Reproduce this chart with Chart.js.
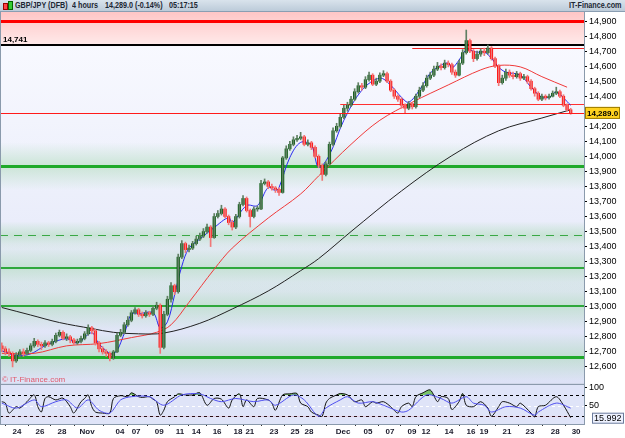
<!DOCTYPE html>
<html>
<head>
<meta charset="utf-8">
<script src="https://cdn.jsdelivr.net/npm/chart.js@4.4.0/dist/chart.umd.min.js"></script>
<style>
html, body { margin: 0; padding: 0; background: #fff; }
#hdr { position: absolute; left: 0; top: 0; width: 625px; height: 11px; background: linear-gradient(#d9e3ec, #bccbd9); border-bottom: 1px solid #8a9eb2; font: bold 9px "Liberation Sans", Arial, sans-serif; color: #1c2733; }
#hdr b { position: absolute; top: 0px; line-height: 11px; white-space: nowrap; transform: scaleX(0.8); transform-origin: 0 0; }
#hdr b.r { transform-origin: 100% 0; }
#hdr .ic { position: absolute; left: 3px; top: 3px; width: 3px; height: 5px; border: 1px solid #900; background: #f44; }
#hdr .ic2 { position: absolute; left: 8px; top: 1px; width: 3px; height: 7px; border: 1px solid #060; background: #3c3; }
#wrap { position: absolute; left: 0; top: 12px; width: 625px; height: 426px; }
</style>
</head>
<body>
<div id="hdr">
  <span class="ic"></span><span class="ic2"></span>
  <b style="left:15px">GBP/JPY (DFB)</b>
  <b style="left:72px">4 hours</b>
  <b style="left:105px">14,289.0 (-0.14%)</b>
  <b style="left:169px">05:17:15</b>
  <b class="r" style="right:3px">IT-Finance.com</b>
</div>
<div id="wrap"><canvas id="c" width="625" height="426"></canvas></div>
<script>
// 4h candles, GBP/JPY x100
var opens = [12740,12720,12700,12690,12640,12680,12700,12690,12710,12740,12770,12750,12740,12760,12750,12770,12810,12830,12790,12800,
  12780,12760,12770,12790,12820,12860,12840,12760,12720,12700,12690,12660,12700,12810,12830,12880,12910,12960,12980,12950,
  12940,12960,12950,12990,13010,12730,12950,13050,13140,13100,13330,13420,13380,13390,13420,13450,13470,13500,13530,13460,
  13600,13620,13650,13600,13560,13530,13600,13680,13720,13640,13600,13650,13650,13820,13830,13800,13790,13780,13760,13990,
  14050,14080,14110,14120,14130,14080,14090,14060,14000,13940,13880,13950,14080,14170,14200,14260,14320,14340,14380,14430,
  14470,14460,14510,14540,14480,14500,14540,14550,14500,14440,14400,14380,14340,14320,14350,14330,14400,14440,14470,14520,
  14540,14580,14600,14590,14620,14610,14560,14540,14620,14690,14770,14700,14650,14680,14700,14690,14720,14650,14600,14490,
  14520,14560,14540,14530,14550,14520,14530,14500,14450,14420,14380,14400,14390,14400,14420,14430,14400,14340,14310];
var highs = [12760,12735,12720,12700,12695,12715,12720,12725,12755,12790,12780,12765,12775,12770,12785,12825,12845,12840,12820,12810,
  12790,12785,12805,12835,12880,12870,12850,12770,12735,12715,12700,12710,12825,12850,12895,12935,12975,12995,12990,12965,
  12975,12970,13005,13030,13020,12970,13070,13160,13150,13350,13440,13430,13410,13435,13470,13490,13520,13550,13540,13620,
  13640,13675,13660,13610,13575,13615,13695,13740,13730,13650,13665,13670,13840,13850,13840,13815,13800,13790,14000,14070,
  14100,14130,14140,14160,14140,14110,14100,14070,14010,13950,13965,14095,14190,14220,14280,14340,14360,14400,14450,14490,
  14485,14530,14560,14550,14520,14555,14570,14560,14510,14450,14410,14390,14350,14365,14360,14415,14460,14490,14540,14560,
  14600,14625,14615,14640,14635,14620,14575,14640,14710,14840,14780,14710,14700,14715,14720,14740,14730,14660,14610,14540,
  14580,14575,14560,14565,14560,14545,14540,14510,14460,14430,14415,14410,14415,14435,14460,14440,14410,14350,14320];
var lows = [12700,12680,12670,12600,12630,12665,12670,12680,12700,12730,12735,12715,12730,12735,12740,12760,12800,12780,12775,12760,
  12745,12750,12760,12780,12810,12820,12745,12700,12685,12670,12640,12650,12695,12800,12820,12870,12900,12950,12935,12925,
  12930,12935,12940,12980,12690,12720,12940,13030,13080,13090,13320,13360,13365,13380,13410,13440,13460,13490,13400,13455,
  13590,13610,13590,13545,13510,13520,13590,13670,13630,13530,13590,13635,13645,13810,13785,13775,13760,13740,13755,13980,
  14040,14070,14100,14110,14070,14070,14045,13990,13925,13840,13870,13940,14070,14160,14190,14250,14300,14330,14370,14420,
  14440,14450,14500,14470,14470,14490,14530,14490,14430,14385,14365,14320,14290,14310,14315,14320,14390,14430,14460,14510,
  14530,14570,14575,14580,14595,14545,14525,14535,14610,14680,14690,14630,14640,14665,14670,14680,14640,14590,14470,14480,
  14505,14525,14515,14520,14505,14510,14485,14440,14400,14370,14370,14375,14380,14395,14410,14390,14330,14300,14280];
var closes = [12720,12700,12690,12640,12680,12700,12690,12710,12740,12770,12750,12740,12760,12750,12770,12810,12830,12790,12800,12780,
  12760,12770,12790,12820,12860,12840,12760,12720,12700,12690,12660,12700,12810,12830,12880,12910,12960,12980,12950,12940,
  12960,12950,12990,13010,12730,12950,13050,13140,13100,13330,13420,13380,13390,13420,13450,13470,13500,13530,13460,13600,
  13620,13650,13600,13560,13530,13600,13680,13720,13640,13600,13650,13650,13820,13830,13800,13790,13780,13760,13990,14050,
  14080,14110,14120,14130,14080,14090,14060,14000,13940,13880,13950,14080,14170,14200,14260,14320,14340,14380,14430,14470,
  14460,14510,14540,14480,14500,14540,14550,14500,14440,14400,14380,14340,14320,14350,14330,14400,14440,14470,14520,14540,
  14580,14600,14590,14620,14610,14560,14540,14620,14690,14770,14700,14650,14680,14700,14690,14720,14650,14600,14490,14520,
  14560,14540,14530,14550,14520,14530,14500,14450,14420,14380,14400,14390,14400,14420,14430,14400,14340,14310,14289];

// moving averages, sampled as [bar, value]
var maSlow = [[0,12995],[8,12945],[16,12895],[25,12855],[31,12830],[38,12820],[45,12825],[55,12890],[64,12985],[74,13105],
  [83,13240],[88,13320],[97,13500],[111,13770],[125,14005],[138,14170],[150,14255],[158,14310]];
var maMid = [[0,12690],[9,12690],[18,12740],[27,12755],[36,12795],[43,12830],[47,12880],[52,13030],[59,13250],[64,13390],
  [74,13590],[83,13750],[88,13870],[97,14080],[105,14240],[114,14360],[124,14475],[133,14575],[138,14605],[144,14595],[150,14530],[157,14460]];
var maFast = [[0,12707],[4,12675],[8,12687],[11,12727],[13,12753],[18,12787],[21,12760],[25,12827],[27,12753],[31,12687],
  [34,12820],[36,12953],[38,12953],[42,12960],[44,12860],[46,12900],[48,13080],[50,13270],[52,13390],[55,13450],[59,13527],
  [63,13593],[64,13560],[68,13673],[71,13673],[74,13793],[76,13773],[77,13793],[80,13993],[83,14093],[86,14073],[88,13927],
  [91,14010],[95,14240],[100,14440],[105,14520],[108,14473],[111,14393],[113,14360],[116,14440],[119,14553],[122,14607],
  [124,14620],[125,14587],[127,14640],[129,14707],[132,14693],[134,14693],[136,14653],[138,14593],[140,14560],[144,14540],
  [147,14460],[150,14393],[152,14393],[154,14427],[158,14340]];

// stochastic %K / %D
var stochK = [[0,61],[1,57],[2,29],[4,47],[5,43],[7,61],[9,80],[10,47],[11,32],[12,70],[13,75],[15,66],[17,71],[19,47],[20,29],
  [22,61],[23,70],[24,80],[25,47],[26,32],[28,29],[30,29],[31,70],[33,78],[35,75],[36,86],[38,75],[39,73],[41,75],[42,68],
  [43,61],[44,23],[45,37],[46,61],[48,75],[49,83],[51,80],[53,80],[55,86],[57,51],[59,70],[61,68],[63,43],[64,66],[66,83],
  [67,47],[68,66],[70,47],[71,70],[74,66],[75,57],[76,37],[78,80],[80,83],[82,84],[83,57],[85,47],[86,32],[88,23],[89,20],
  [90,57],[91,70],[93,80],[94,84],[96,80],[98,61],[100,66],[101,47],[103,61],[104,57],[106,61],[108,47],[110,29],[111,47],
  [113,57],[114,47],[115,75],[117,86],[119,94],[121,61],[122,75],[124,70],[125,39],[127,61],[128,84],[129,51],[131,47],
  [133,61],[135,43],[136,20],[138,47],[139,61],[141,57],[143,47],[144,57],[147,29],[148,18],[149,47],[151,51],[154,75],
  [156,51],[158,16]];
var stochD = [[0,57],[4,43],[9,66],[11,47],[15,61],[18,66],[21,43],[24,66],[27,37],[30,29],[33,66],[36,75],[41,75],[45,51],
  [50,80],[55,83],[58,70],[61,61],[65,70],[70,61],[74,66],[76,51],[81,80],[84,66],[88,20],[90,43],[94,66],[96,75],[99,57],
  [103,61],[106,51],[111,32],[113,37],[118,80],[122,70],[125,57],[129,75],[131,57],[134,51],[136,32],[140,47],[144,43],
  [148,23],[149,32],[154,57],[158,43]];

var priceTicks = [14900,14800,14700,14600,14500,14400,14300,14200,14100,14000,13900,13800,13700,13600,13500,13400,13300,
  13200,13100,13000,12900,12800,12700,12600];
var stochTicks = [100, 50];
var dateTickPos = [4.2,10.6,16.7,23.7,32.8,37.3,43.7,49.5,54,59.8,65.6,68.9,75.6,81.4,85.3,94.8,101.7,107.8,113.9,117.8,
  124.2,130.3,133.9,140.3,146.7,153.7,159.5];
var dateTickLabels = ['24','26','28','Nov','04','07','09','11','14','16','18','21','23','25','28','Dec','05','07','09','12',
  '14','16','19','21','23','28','30'];

var resistance = [14900, 14741, 14722, 14347];
var supports = [13935, 13475, 13260, 13005, 12667];
var lastPrice = 14289.0;
var lastStoch = 15.992;

var FONT = '"Liberation Sans", Arial, sans-serif';

var wickData = closes.map(function (c, i) { return { x: i, y: [lows[i], highs[i]] }; });
var bodyData = closes.map(function (c, i) { return { x: i, y: [opens[i], c] }; });
var isUp = closes.map(function (c, i) { return c >= opens[i]; });
function pts(arr) { return arr.map(function (p) { return { x: p[0], y: p[1] }; }); }

// no label overhang padding, so the panes fill the canvas exactly
function noPad(s) { s.paddingTop = 0; s.paddingBottom = 0; s.paddingLeft = 0; s.paddingRight = 0; }

function hline(chart, v, color, w, dash, fromBar) {
  var ctx = chart.ctx, a = chart.chartArea;
  var py = Math.round(chart.scales.y.getPixelForValue(v)) + (w % 2 ? 0.5 : 0);
  var x0 = fromBar == null ? a.left : chart.scales.x.getPixelForValue(fromBar);
  ctx.beginPath();
  ctx.setLineDash(dash || []);
  ctx.strokeStyle = color; ctx.lineWidth = w;
  ctx.moveTo(x0, py); ctx.lineTo(a.right, py); ctx.stroke();
}

var panels = {
  id: 'panels',
  beforeDatasetsDraw: function (chart) {
    var ctx = chart.ctx, a = chart.chartArea, y = chart.scales.y, yo = chart.scales.yo;
    var yRes = y.getPixelForValue(resistance[1]);
    ctx.save();
    // main panel
    var g = ctx.createLinearGradient(0, yRes, 0, y.bottom);
    g.addColorStop(0, '#f8f9ff');
    g.addColorStop(1, '#dde2f6');
    ctx.fillStyle = g;
    ctx.fillRect(a.left, yRes, a.right - a.left, y.bottom - yRes);
    var p = ctx.createLinearGradient(0, a.top, 0, yRes);
    p.addColorStop(0, '#ffc6c6');
    p.addColorStop(1, '#ffeaea');
    ctx.fillStyle = p;
    ctx.fillRect(a.left, a.top, a.right - a.left, yRes - a.top);
    // green glow round the supports
    supports.forEach(function (v, k) {
      var py = y.getPixelForValue(v), h = k === 1 ? 14 : 24;
      var gg = ctx.createLinearGradient(0, py - h, 0, py + h);
      gg.addColorStop(0, 'rgba(160,215,170,0)');
      gg.addColorStop(0.5, 'rgba(160,215,170,0.45)');
      gg.addColorStop(1, 'rgba(160,215,170,0)');
      ctx.fillStyle = gg;
      ctx.fillRect(a.left, py - h, a.right - a.left, 2 * h);
    });
    // oscillator panel
    ctx.fillStyle = '#dfe4f8';
    ctx.fillRect(a.left, yo.top, a.right - a.left, yo.bottom - yo.top);
    // level lines
    hline(chart, resistance[0], '#ff0000', 3);
    hline(chart, resistance[2], '#ee2020', 1, null, 114);
    hline(chart, resistance[1], '#000000', 2);
    hline(chart, resistance[3], '#ff3030', 1, null, 94);
    hline(chart, supports[0], '#1faa2a', 3);
    hline(chart, supports[1], '#3aa846', 1, [8, 6]);
    hline(chart, supports[2], '#2fa83c', 2);
    hline(chart, supports[3], '#2fa83c', 2);
    hline(chart, supports[4], '#1faa2a', 3);
    // oscillator guide lines
    [80, 20, 50].forEach(function (v) {
      var py = Math.round(yo.getPixelForValue(v)) + 0.5;
      ctx.beginPath();
      ctx.setLineDash([3, 3]);
      ctx.strokeStyle = v === 50 ? '#ffffff' : '#000000';
      ctx.lineWidth = 1;
      ctx.moveTo(a.left, py); ctx.lineTo(a.right, py); ctx.stroke();
    });
    ctx.restore();
  },
  afterDatasetsDraw: function (chart) {
    chart.ctx.save();
    hline(chart, lastPrice, '#ff1a1a', 1);
    chart.ctx.restore();
  },
  afterDraw: function (chart) {
    var ctx = chart.ctx, a = chart.chartArea, y = chart.scales.y, yo = chart.scales.yo;
    ctx.save();
    ctx.strokeStyle = '#8a9aac';
    ctx.lineWidth = 1;
    ctx.strokeRect(a.left + 0.5, a.top - 0.5, a.right - a.left, y.bottom - a.top + 1);
    ctx.strokeRect(a.left + 0.5, yo.top + 0.5, a.right - a.left, yo.bottom - yo.top);
    // labels
    ctx.fillStyle = '#000';
    ctx.font = 'bold 8px ' + FONT;
    ctx.textBaseline = 'bottom';
    ctx.fillText(resistance[1].toLocaleString('en-US'), 3, y.getPixelForValue(resistance[1]) - 1);
    ctx.fillStyle = '#e05a6c';
    ctx.font = '8px ' + FONT;
    ctx.textBaseline = 'middle';
    ctx.fillText('\u00a9 IT-Finance.com', 2, y.bottom - 4);
    // last price box
    var py = y.getPixelForValue(lastPrice);
    ctx.fillStyle = '#ffd21f';
    ctx.fillRect(a.right + 1, py - 6, 35, 12);
    ctx.strokeStyle = '#9a7a00';
    ctx.strokeRect(a.right + 1.5, py - 5.5, 34, 11);
    ctx.fillStyle = '#000';
    ctx.font = 'bold 8px ' + FONT;
    ctx.fillText(lastPrice.toLocaleString('en-US', { minimumFractionDigits: 1 }), a.right + 3, py + 0.5);
    // last stochastic box
    var sy = yo.getPixelForValue(lastStoch);
    ctx.fillStyle = '#eef2ff';
    ctx.fillRect(a.right + 8, sy - 5, 32, 11);
    ctx.strokeStyle = '#6c7c9c';
    ctx.strokeRect(a.right + 8.5, sy - 4.5, 31, 10);
    ctx.fillStyle = '#000';
    ctx.font = '9px ' + FONT;
    ctx.fillText(String(lastStoch), a.right + 10, sy + 0.5);
    ctx.restore();
  }
};

var lineBase = { type: 'line', pointRadius: 0, borderWidth: 1, tension: 0.35, fill: false, yAxisID: 'y' };

new Chart(document.getElementById('c'), {
  type: 'bar',
  data: {
    datasets: [
      { data: wickData, yAxisID: 'y', barThickness: 1, grouped: false,
        backgroundColor: isUp.map(function (u) { return u ? '#5f7f62' : '#f07878'; }) },
      { data: bodyData, yAxisID: 'y', barThickness: 2.6, grouped: false, minBarLength: 1,
        backgroundColor: isUp.map(function (u) { return u ? '#0a5a12' : '#ff0000'; }) },
      Object.assign({}, lineBase, { data: pts(maSlow), borderColor: '#222222' }),
      Object.assign({}, lineBase, { data: pts(maMid), borderColor: '#f03a3a' }),
      Object.assign({}, lineBase, { data: pts(maFast), borderColor: '#2a2af0' }),
      Object.assign({}, lineBase, { data: pts(stochD), yAxisID: 'yo', borderColor: '#5050f0', tension: 0.3 }),
      Object.assign({}, lineBase, { data: pts(stochK), yAxisID: 'yo', borderColor: '#111111', tension: 0.3,
        fill: { target: { value: 80 }, above: 'rgba(110,190,90,0.9)', below: 'rgba(0,0,0,0)' } }),
      Object.assign({}, lineBase, { data: pts(stochK), yAxisID: 'yo', borderColor: 'rgba(0,0,0,0)', tension: 0.3,
        fill: { target: { value: 20 }, above: 'rgba(0,0,0,0)', below: 'rgba(240,90,110,0.9)' } })
    ]
  },
  options: {
    responsive: false,
    animation: false,
    devicePixelRatio: 1,
    layout: { padding: 0 },
    plugins: { legend: { display: false }, tooltip: { enabled: false } },
    scales: {
      x: {
        type: 'linear', min: -0.5, max: 161.7, offset: false,
        afterBuildTicks: function (s) { s.ticks = dateTickPos.map(function (v) { return { value: v }; }); },
        afterFit: function (s) { s.height = 14; noPad(s); },
        ticks: { autoSkip: false, maxRotation: 0, padding: 1, color: '#1a1a2a',
          font: { family: FONT, size: 8, weight: 'bold' },
          callback: function (v, i) { return dateTickLabels[i]; } },
        grid: { drawOnChartArea: false, tickLength: 2, color: '#333' },
        border: { color: '#8a9aac' }
      },
      y: {
        position: 'right', stack: 'panes', stackWeight: 371, min: 12487, max: 14960,
        afterBuildTicks: function (s) { s.ticks = priceTicks.map(function (v) { return { value: v }; }); },
        afterFit: function (s) { s.width = 41; noPad(s); },
        ticks: { autoSkip: false, padding: 2, color: '#000', font: { family: FONT, size: 9 },
          callback: function (v) { return v.toLocaleString('en-US'); } },
        grid: { drawOnChartArea: false, tickLength: 3, color: '#000' },
        border: { color: '#8a9aac' }
      },
      yo: {
        position: 'right', stack: 'panes', stackWeight: 40, min: -1.7, max: 111,
        afterBuildTicks: function (s) { s.ticks = stochTicks.map(function (v) { return { value: v }; }); },
        afterFit: function (s) { s.width = 41; noPad(s); },
        ticks: { autoSkip: false, padding: 2, color: '#000', font: { family: FONT, size: 9 } },
        grid: { drawOnChartArea: false, tickLength: 3, color: '#000' },
        border: { color: '#8a9aac' }
      }
    }
  },
  plugins: [panels]
});
</script>
</body>
</html>
